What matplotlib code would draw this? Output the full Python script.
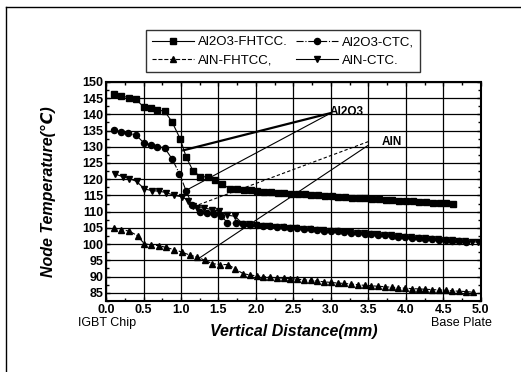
import matplotlib
matplotlib.use("Agg")
import matplotlib.pyplot as plt
from matplotlib.lines import Line2D
from matplotlib.ticker import MultipleLocator

plt.rcParams['font.family'] = ['Liberation Sans', 'DejaVu Sans']

# ---- data ----
x_al2o3_fhtcc = [0.10, 0.20, 0.31, 0.40, 0.50, 0.60, 0.68, 0.78, 0.88, 0.99, 1.07, 1.16, 1.26, 1.36, 1.45, 1.55, 1.65, 1.75,
                 1.84, 1.93, 2.02, 2.11, 2.20, 2.29, 2.38, 2.47, 2.56, 2.65, 2.74, 2.83, 2.92, 3.01, 3.10, 3.19, 3.28, 3.37,
                 3.46, 3.55, 3.64, 3.73, 3.82, 3.91, 4.00, 4.09, 4.18, 4.27, 4.36, 4.45, 4.54, 4.63]
y_al2o3_fhtcc = [146.1, 145.7, 145.1, 144.6, 142.3, 141.8, 141.3, 141.0, 137.7, 132.4, 126.8, 122.6, 120.8, 120.7, 119.8, 118.5, 117.1, 117.1,
                 116.8, 116.6, 116.3, 116.2, 116.0, 115.9, 115.8, 115.6, 115.5, 115.3, 115.2, 115.0, 114.9, 114.8, 114.6, 114.5, 114.3, 114.2,
                 114.1, 114.0, 113.8, 113.7, 113.6, 113.4, 113.3, 113.2, 113.0, 112.9, 112.8, 112.7, 112.6, 112.4]

x_al2o3_ctc = [0.11, 0.20, 0.29, 0.40, 0.50, 0.60, 0.68, 0.78, 0.88, 0.98, 1.07, 1.15, 1.26, 1.35, 1.44, 1.53, 1.62,
               1.74, 1.83, 1.92, 2.01, 2.10, 2.19, 2.28, 2.37, 2.46, 2.55, 2.64, 2.73, 2.82, 2.91, 3.00, 3.09, 3.18, 3.27,
               3.36, 3.45, 3.54, 3.63, 3.72, 3.81, 3.90, 3.99, 4.08, 4.17, 4.26, 4.35, 4.44, 4.53, 4.62, 4.71, 4.80]
y_al2o3_ctc = [135.2, 134.6, 134.1, 133.6, 131.3, 130.6, 130.0, 129.7, 126.3, 121.7, 116.3, 112.0, 110.0, 109.6, 109.4, 108.8, 106.6,
               106.4, 106.2, 106.0, 105.8, 105.6, 105.5, 105.3, 105.2, 105.1, 104.9, 104.8, 104.6, 104.4, 104.2, 104.0, 103.9, 103.7, 103.5,
               103.3, 103.2, 103.1, 102.9, 102.7, 102.5, 102.3, 102.1, 101.9, 101.8, 101.6, 101.5, 101.3, 101.2, 101.0, 100.9, 100.7]

x_aln_fhtcc = [0.11, 0.20, 0.31, 0.42, 0.51, 0.60, 0.71, 0.80, 0.91, 1.02, 1.12, 1.22, 1.32, 1.42, 1.52, 1.63, 1.72,
               1.83, 1.92, 2.01, 2.10, 2.19, 2.28, 2.37, 2.46, 2.55, 2.64, 2.73, 2.82, 2.91, 3.00, 3.09, 3.18, 3.27, 3.36,
               3.45, 3.54, 3.63, 3.72, 3.81, 3.90, 3.99, 4.08, 4.17, 4.26, 4.35, 4.44, 4.53, 4.62, 4.71, 4.80, 4.89]
y_aln_fhtcc = [105.0, 104.5, 104.0, 102.6, 100.1, 99.8, 99.5, 99.0, 98.3, 97.5, 96.6, 96.0, 95.0, 94.0, 93.7, 93.7, 92.4,
               90.9, 90.5, 90.2, 90.0, 89.8, 89.6, 89.5, 89.4, 89.2, 89.0, 88.8, 88.6, 88.4, 88.2, 88.0, 87.9, 87.7, 87.5,
               87.3, 87.2, 87.0, 86.9, 86.7, 86.6, 86.4, 86.3, 86.2, 86.1, 86.0, 85.9, 85.8, 85.6, 85.5, 85.4, 85.2]

x_aln_ctc = [0.12, 0.22, 0.31, 0.41, 0.51, 0.61, 0.71, 0.80, 0.91, 1.01, 1.10, 1.16, 1.22, 1.31, 1.41, 1.51, 1.62, 1.72,
             1.82, 1.91, 2.00, 2.09, 2.18, 2.27, 2.36, 2.45, 2.54, 2.63, 2.72, 2.81, 2.90, 2.99, 3.08, 3.17, 3.26, 3.35,
             3.44, 3.53, 3.62, 3.71, 3.80, 3.89, 3.98, 4.07, 4.16, 4.25, 4.34, 4.43, 4.52, 4.61, 4.70, 4.79, 4.88, 4.96]
y_aln_ctc = [121.6, 120.8, 120.2, 119.3, 117.0, 116.5, 116.3, 115.9, 115.0, 114.6, 113.4, 111.6, 111.2, 111.2, 110.6, 110.2, 108.9, 108.6,
             106.3, 106.1, 105.9, 105.7, 105.5, 105.4, 105.2, 105.1, 104.9, 104.8, 104.6, 104.5, 104.3, 104.1, 103.9, 103.8, 103.6, 103.5,
             103.3, 103.2, 103.0, 102.9, 102.7, 102.5, 102.3, 102.2, 102.0, 101.9, 101.7, 101.5, 101.4, 101.2, 101.0, 100.9, 100.8, 100.6]

labels = ["Al2O3-FHTCC.", "Al2O3-CTC,", "AlN-FHTCC,", "AlN-CTC."]
x_ticks = [0.0, 0.5, 1.0, 1.5, 2.0, 2.5, 3.0, 3.5, 4.0, 4.5, 5.0]
y_ticks = [85, 90, 95, 100, 105, 110, 115, 120, 125, 130, 135, 140, 145, 150]

fig = plt.figure(figsize=(5.21, 3.72), dpi=100)
ax = fig.add_axes([0.2035, 0.191, 0.7195, 0.589])

lw = 0.8
h1, = ax.plot(x_al2o3_fhtcc, y_al2o3_fhtcc, color='black', lw=lw, ls='-', marker='s', ms=4.0, label=labels[0])
h2, = ax.plot(x_al2o3_ctc, y_al2o3_ctc, color='black', lw=lw, ls='-.', marker='o', ms=4.4, label=labels[1])
h3, = ax.plot(x_aln_fhtcc, y_aln_fhtcc, color='black', lw=lw, ls='--', marker='^', ms=4.8, label=labels[2])
h4, = ax.plot(x_aln_ctc, y_aln_ctc, color='black', lw=lw, ls='-', marker='v', ms=4.8, label=labels[3])

# annotation leader lines
ax.plot([3.0, 1.03], [140.4, 128.9], color='black', lw=1.6)
ax.plot([3.0, 1.07], [140.4, 116.6], color='black', lw=0.8)
ax.plot([3.5, 1.22], [131.6, 112.0], color='black', lw=0.8, ls=(0, (3, 2)))
ax.plot([3.5, 1.25], [130.5, 95.8], color='black', lw=0.8)
ax.text(2.98, 140.7, "Al2O3", fontsize=8.5, fontweight='bold', va='center', ha='left')
ax.text(3.68, 131.6, "AlN", fontsize=8.5, fontweight='bold', va='center', ha='left')

ax.set_xlim(0, 5)
ax.set_ylim(82.5, 150)
ax.set_xticks(x_ticks)
ax.set_xticklabels([f"{v:.1f}" for v in x_ticks])
ax.set_yticks(y_ticks)
ax.set_yticklabels([str(v) for v in y_ticks])
ax.xaxis.set_minor_locator(MultipleLocator(0.25))
ax.yaxis.set_minor_locator(MultipleLocator(2.5))
ax.tick_params(which='both', direction='in', top=True, right=True, colors='black')
ax.tick_params(which='major', length=3, width=1, labelsize=9, pad=2)
ax.tick_params(which='minor', length=2, width=1)
for t in ax.get_xticklabels() + ax.get_yticklabels():
    t.set_fontweight('bold')
ax.grid(True, which='major', color='black', lw=0.9)
for s in ax.spines.values():
    s.set_linewidth(1.5)
    s.set_color('black')

ax.set_xlabel("Vertical Distance(mm)", fontsize=11.5, fontweight='bold', fontstyle='italic', labelpad=6)
ax.set_ylabel("Node Temperature(℃)", fontsize=11.5, fontweight='bold', fontstyle='italic', labelpad=19)

fig.text(78/521, 1 - 323/372, "IGBT Chip", fontsize=9, ha='left', va='center')
fig.text(492/521, 1 - 323/372, "Base Plate", fontsize=9, ha='right', va='center')

leg = fig.legend(handles=[h1, h3, h2, h4], labels=[labels[0], labels[2], labels[1], labels[3]],
                 ncol=2, loc='center', bbox_to_anchor=(0.543, 0.862), frameon=True, fancybox=False,
                 fontsize=9.5, handlelength=3.2, columnspacing=0.6, handletextpad=0.3, labelspacing=0.45,
                 borderpad=0.45, borderaxespad=0)
leg.get_frame().set_edgecolor('black')
leg.get_frame().set_linewidth(1.0)

# outer frame (left and top edges)
fig.add_artist(Line2D([6/521, 6/521], [0, 1 - 7/372], color='black', lw=1.0, transform=fig.transFigure))
fig.add_artist(Line2D([6/521, 1], [1 - 7/372, 1 - 7/372], color='black', lw=1.0, transform=fig.transFigure))

fig.savefig("out.png", dpi=100)
